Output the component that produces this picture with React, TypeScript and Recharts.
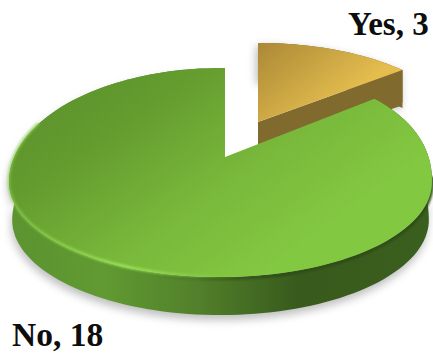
import { Pie, PieChart } from 'recharts'

const categories = ['Yes', 'No']
const counts = [3, 18]

const rows = categories.map((name, i) => ({ name, value: counts[i] }))

const WIDTH = 433
const HEIGHT = 354
const CX = 225
const CY = 157
const RADIUS = 209
const DEPTH = 38
// how much the disc is squashed by its tilt
const FLATTEN = 0.489
const PERSPECTIVE = 0.148

type Pt = [number, number]
type Project = (deg: number, lower?: boolean) => Pt

// Outline of the tilted disc: half ellipses sharing their widest line, the far
// half taller than the near one and a little fuller on the right.
// Slice angles are cast as rays from the apex.
function discOutline(cx: number, cy: number, radius: number): Project {
  const ox = cx - 4.5
  const oy = cy + 25
  const rx = radius * 1.012
  const inside = (x: number, y: number) => {
    const far = y < oy
    const ry = far ? radius * 0.545 : radius * 0.455
    const n = far && x > ox ? 2.2 : 2
    return Math.abs((x - ox) / rx) ** n + Math.abs((y - oy) / ry) ** n < 1
  }
  return (deg, lower = false) => {
    const dx = Math.cos((deg * Math.PI) / 180)
    const dy = -Math.sin((deg * Math.PI) / 180) * FLATTEN
    let lo = 0
    let hi = 2 * radius
    for (let i = 0; i < 24; i++) {
      const mid = (lo + hi) / 2
      if (inside(cx + dx * mid, cy + dy * mid)) lo = mid
      else hi = mid
    }
    const x = cx + dx * lo
    const y = cy + dy * lo
    // the bottom face reads slightly narrower than the top one
    return lower ? [ox + (x - ox) * 0.985, y + DEPTH] : [x, y]
  }
}

// Pulled-out slice, projected around its own apex.
function sliceOutline(x: number, y: number, r: number, flat: number): Project {
  return (deg, lower = false) => {
    const u = Math.cos((deg * Math.PI) / 180)
    const v = Math.sin((deg * Math.PI) / 180)
    const w = 1 + PERSPECTIVE * v
    return [x + (r * u) / w, y - (r * flat * v) / w + (lower ? DEPTH : 0)]
  }
}

function arcPoints(p: Project, from: number, to: number, lower = false): Pt[] {
  const steps = Math.max(2, Math.ceil(Math.abs(to - from) / 2))
  const pts: Pt[] = []
  for (let i = 0; i <= steps; i++) {
    pts.push(p(from + ((to - from) * i) / steps, lower))
  }
  return pts
}

const toPath = (pts: Pt[], close = true) =>
  'M' + pts.map((p) => `${p[0].toFixed(1)},${p[1].toFixed(1)}`).join('L') + (close ? 'Z' : '')

// Pie sector drawn as a tilted, extruded slice. The small slice sits pulled out of the disc.
function Slice(props: any) {
  const { cx, cy, outerRadius, startAngle, endAngle, name } = props
  const top = (p: Project) => arcPoints(p, startAngle, endAngle)
  const bottom = (p: Project) => arcPoints(p, endAngle, startAngle, true)

  if (name === 'Yes') {
    const apex: Pt = [cx + 33, cy - 35]
    const p = sliceOutline(apex[0], apex[1], outerRadius * 0.966, 0.45)
    const rim = top(p)
    const tip = rim[rim.length - 1]
    const wall: Pt[] = [apex, tip, [tip[0], tip[1] + DEPTH - 6], [tip[0] - 2, tip[1] + DEPTH - 2], [tip[0] - 8, tip[1] + DEPTH], [apex[0], apex[1] + DEPTH]]
    return (
      <g>
        <path d={toPath([apex, ...rim, ...bottom(p), [apex[0], apex[1] + DEPTH]])} fill="#8e8e8e" opacity={0.6} filter="url(#softShadow)" transform="translate(-2,3)" />
        <path d={toPath([...rim, ...bottom(p)])} fill="#806a2e" />
        <path d={toPath(wall)} fill="#806a2e" />
        <path d={toPath([apex, ...rim])} fill="url(#yesTop)" />
      </g>
    )
  }

  const p = discOutline(cx, cy, outerRadius)
  const rim = top(p)
  return (
    <g>
      <path d={toPath([...arcPoints(p, -20, -260), ...arcPoints(p, -260, -20, true)])} fill="#8a8a8a" opacity={0.55} filter="url(#softShadow)" transform="translate(-1,5)" />
      <path d={toPath([...rim, ...bottom(p)])} fill="url(#noSide)" />
      <path d={toPath(arcPoints(p, -120, -10), false)} fill="none" stroke="url(#noRim)" strokeWidth={3.5} filter="url(#softRim)" transform="translate(0,1.5)" />
      <path d={toPath([[cx, cy], ...rim])} fill="url(#noTop)" />
      <path d={toPath(arcPoints(p, -200, -75), false)} fill="none" stroke="url(#noHighlight)" strokeWidth={3} filter="url(#softRim)" transform="translate(0,-0.5)" />
    </g>
  )
}

function SliceLabel(props: any) {
  const { name, value } = props
  const isYes = name === 'Yes'
  return (
    <text
      x={isYes ? 348 : 12}
      y={isYes ? 35 : 346}
      fill="#0d0d0d"
      fontFamily="'Liberation Serif', serif"
      fontWeight={700}
      fontSize={isYes ? 33 : 33.5}
    >
      {`${name}, ${value}`}
    </text>
  )
}

export default function App() {
  return (
    <div style={{ position: 'absolute', left: 0, top: 0, width: WIDTH, height: HEIGHT }}>
      <PieChart width={WIDTH} height={HEIGHT} margin={{ top: 0, right: 0, bottom: 0, left: 0 }}>
        <defs>
          <linearGradient id="noTop" x1="0.02" y1="0.05" x2="0.85" y2="0.62">
            <stop offset="0%" stopColor="#5a8f2b" />
            <stop offset="32%" stopColor="#649c2f" />
            <stop offset="68%" stopColor="#79b83b" />
            <stop offset="100%" stopColor="#83c841" />
          </linearGradient>
          <linearGradient id="yesTop" x1="0" y1="0" x2="0.75" y2="0.5">
            <stop offset="0%" stopColor="#ab8836" />
            <stop offset="100%" stopColor="#e4bd4e" />
          </linearGradient>
          <linearGradient id="noSide" gradientUnits="userSpaceOnUse" x1="10" y1="0" x2="433" y2="0">
            <stop offset="0%" stopColor="#5b9430" />
            <stop offset="22%" stopColor="#619a32" />
            <stop offset="45%" stopColor="#517f2a" />
            <stop offset="68%" stopColor="#385a1c" />
            <stop offset="100%" stopColor="#3b5f1e" />
          </linearGradient>
          <linearGradient id="noRim" gradientUnits="userSpaceOnUse" x1="150" y1="0" x2="433" y2="0">
            <stop offset="0%" stopColor="#2f4c17" stopOpacity={0} />
            <stop offset="45%" stopColor="#2f4c17" />
            <stop offset="100%" stopColor="#2f4c17" />
          </linearGradient>
          <linearGradient id="noHighlight" gradientUnits="userSpaceOnUse" x1="10" y1="0" x2="240" y2="0">
            <stop offset="0%" stopColor="#86cb47" stopOpacity={0.6} />
            <stop offset="50%" stopColor="#98e258" />
            <stop offset="100%" stopColor="#8fd64f" stopOpacity={0} />
          </linearGradient>
          <filter id="softShadow" x="-10%" y="-10%" width="120%" height="125%">
            <feGaussianBlur stdDeviation="4" />
          </filter>
          <filter id="softRim" x="-5%" y="-5%" width="110%" height="110%">
            <feGaussianBlur stdDeviation="0.8" />
          </filter>
        </defs>
        <Pie
          data={rows}
          dataKey="value"
          nameKey="name"
          cx={CX}
          cy={CY}
          outerRadius={RADIUS}
          startAngle={90}
          endAngle={-270}
          stroke="none"
          shape={Slice}
          label={SliceLabel}
          labelLine={false}
          isAnimationActive={false}
        />
      </PieChart>
    </div>
  )
}
